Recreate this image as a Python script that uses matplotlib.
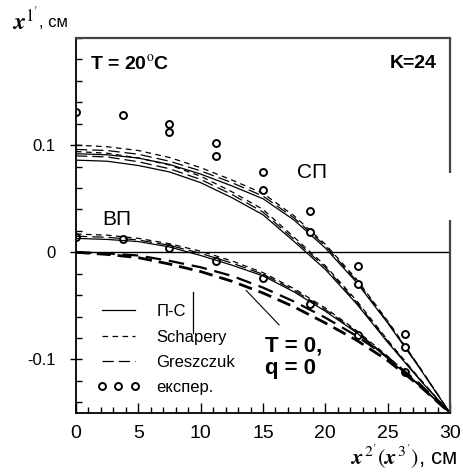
import matplotlib
matplotlib.use("Agg")
import matplotlib.pyplot as plt

plt.rcParams['font.family'] = ['Liberation Sans', 'DejaVu Sans']
plt.rcParams['mathtext.fontset'] = 'stix'

# ---- data ----
x = [0, 2.5, 5, 7.5, 10, 12.5, 15, 17.5, 20, 22.5, 25, 27.5, 30]

# СП group (upper bundle)
sp_up_pc  = [0.092, 0.091, 0.088, 0.082, 0.073, 0.062, 0.050, 0.030, 0.004, -0.028, -0.066, -0.107, -0.150]
sp_up_sch = [0.100, 0.0985, 0.095, 0.0885, 0.079, 0.0675, 0.055, 0.034, 0.0075, -0.025, -0.064, -0.106, -0.150]
sp_up_gr  = [0.096, 0.095, 0.0915, 0.085, 0.076, 0.065, 0.0525, 0.032, 0.006, -0.0265, -0.065, -0.1065, -0.150]
# СП group (lower bundle)
sp_lo_pc  = [0.086, 0.085, 0.081, 0.075, 0.065, 0.051, 0.035, 0.010, -0.016, -0.048, -0.084, -0.118, -0.150]
sp_lo_sch = [0.094, 0.0925, 0.088, 0.0815, 0.071, 0.0565, 0.040, 0.014, -0.0125, -0.045, -0.082, -0.117, -0.150]
sp_lo_gr  = [0.090, 0.089, 0.0845, 0.078, 0.068, 0.054, 0.0375, 0.012, -0.014, -0.0465, -0.083, -0.1175, -0.150]
# ВП group
vp_pc  = [0.013, 0.012, 0.010, 0.005, -0.003, -0.012, -0.022, -0.037, -0.055, -0.075, -0.099, -0.124, -0.150]
vp_sch = [0.017, 0.016, 0.013, 0.008, 0.001, -0.008, -0.019, -0.034, -0.052, -0.073, -0.097, -0.123, -0.150]
vp_gr  = [0.015, 0.014, 0.0115, 0.0065, -0.001, -0.010, -0.0205, -0.0355, -0.0535, -0.074, -0.098, -0.1235, -0.150]
# T = 0, q = 0
t0_a = [0.0, -0.002, -0.005, -0.011, -0.018, -0.027, -0.038, -0.051, -0.066, -0.082, -0.101, -0.124, -0.150]
t0_b = [0.0, -0.001, -0.003, -0.008, -0.014, -0.022, -0.033, -0.046, -0.061, -0.078, -0.098, -0.122, -0.150]

# experimental points
exp_sp_x = [0, 3.75, 7.5, 7.5, 11.25, 11.25, 15, 15, 18.8, 18.8, 22.6, 22.6, 26.4, 26.4]
exp_sp_y = [0.131, 0.128, 0.1195, 0.1126, 0.102, 0.090, 0.075, 0.058, 0.039, 0.019, -0.013, -0.030, -0.076, -0.088]
exp_vp_x = [0, 3.75, 7.5, 11.25, 15, 18.8, 22.6, 26.4]
exp_vp_y = [0.014, 0.0124, 0.004, -0.008, -0.024, -0.048, -0.077, -0.112]

xticks = [0, 5, 10, 15, 20, 25, 30]
yticks = [-0.1, 0, 0.1]
yticklabels = ['-0.1', '0', '0.1']

legend_labels = ['П-С', 'Schapery', 'Greszczuk', 'експер.']

# ---- figure ----
fig = plt.figure(figsize=(4.64, 4.74), dpi=100)
ax = fig.add_axes([0.1638, 0.1287, 0.806, 0.7911])

K = 'black'
sol = dict(color=K, lw=0.9, ls='-')
sch = dict(color=K, lw=0.9, dashes=(4.5, 3.5))
gre = dict(color=K, lw=0.9, dashes=(9, 4))

ax.axhline(0, color=K, lw=1.0)

h_pc, = ax.plot(x, sp_up_pc, **sol)
h_sch, = ax.plot(x, sp_up_sch, **sch)
h_gr, = ax.plot(x, sp_up_gr, **gre)
ax.plot(x, sp_lo_pc, **sol)
ax.plot(x, sp_lo_sch, **sch)
ax.plot(x, sp_lo_gr, **gre)
ax.plot(x, vp_pc, **sol)
ax.plot(x, vp_sch, **sch)
ax.plot(x, vp_gr, **gre)
ax.plot(x, t0_a, color=K, lw=2.0, dashes=(5, 2.5))
ax.plot(x, t0_b, color=K, lw=1.6, dashes=(7, 3.5))

h_exp, = ax.plot(exp_sp_x, exp_sp_y, ls='none', marker='o', ms=5, mfc='white',
                 mec=K, mew=1.4)
ax.plot(exp_vp_x, exp_vp_y, ls='none', marker='o', ms=5, mfc='none', mec=K, mew=1.4)

ax.set_xlim(0, 30)
ax.set_ylim(-0.15, 0.2)

ax.set_xticks(xticks)
ax.set_xticks(range(0, 31), minor=True)
ax.set_yticks(yticks)
ax.set_yticklabels(yticklabels)
ax.set_yticks([round(-0.14 + 0.02 * i, 2) for i in range(18)], minor=True)

ax.tick_params(axis='x', which='major', direction='in', length=7, width=1.0, pad=9,
               labelsize=14)
ax.tick_params(axis='x', which='minor', direction='in', length=4, width=1.0)
ax.tick_params(axis='y', which='major', direction='inout', length=9, width=1.0, pad=10,
               labelsize=12)
ax.tick_params(axis='y', which='minor', direction='in', length=4, width=1.0)
for lab in ax.get_xticklabels():
    lab.set_family(['Liberation Sans Narrow', 'Liberation Sans'])

for s in ['left', 'bottom']:
    ax.spines[s].set_linewidth(1.3)
ax.spines['top'].set_linewidth(1.6)
ax.spines['top'].set_color('#444444')
ax.spines['right'].set_visible(False)
ax.plot([1, 1], [1, 0.641], transform=ax.transAxes, color='#444444', lw=1.6,
        clip_on=False, solid_capstyle='butt')
ax.plot([1, 1], [0.515, 0], transform=ax.transAxes, color='#444444', lw=1.6,
        clip_on=False, solid_capstyle='butt')

# texts
ax.text(0.038, 0.955, 'T = 20$^{\\mathrm{o}}$C', transform=ax.transAxes, fontsize=14,
        fontweight='bold', va='top', ha='left')
ax.text(0.965, 0.955, 'K=24', transform=ax.transAxes, fontsize=14,
        fontweight='bold', va='top', ha='right')
ax.text(0.63, 0.642, 'СП', transform=ax.transAxes, fontsize=15, ha='center', va='center')
ax.text(0.11, 0.515, 'ВП', transform=ax.transAxes, fontsize=15, ha='center', va='center')
ax.text(0.505, 0.09, 'T = 0,\nq = 0', transform=ax.transAxes, fontsize=16,
        fontweight='bold', ha='left', va='bottom', linespacing=1.1)
ax.plot([0.455, 0.543], [0.327, 0.235], transform=ax.transAxes, color=K, lw=0.8)

leg = ax.legend([h_pc, h_sch, h_gr, h_exp], legend_labels, loc='upper left',
                bbox_to_anchor=(0.055, 0.29), frameon=False, fontsize=12,
                handlelength=2.6, handletextpad=1.0, labelspacing=0.62,
                borderpad=0, borderaxespad=0, numpoints=3)
# stray vertical mark after П-С
ax.plot([0.312, 0.312], [0.322, 0.213], transform=ax.transAxes, color=K, lw=0.9)

fig.text(0.026, 0.955, "$\\mathbfit{x}^{1'}$", fontsize=17, ha='left', va='center')
fig.text(0.085, 0.952, ', см', fontsize=12, ha='left', va='center')
fig.text(0.985, 0.036, "$\\mathbfit{x}^{\\,2'}(\\mathbfit{x}^{\\,3'})$, см", fontsize=16,
         ha='right', va='center')

fig.savefig('out.png', dpi=100, facecolor='white')
